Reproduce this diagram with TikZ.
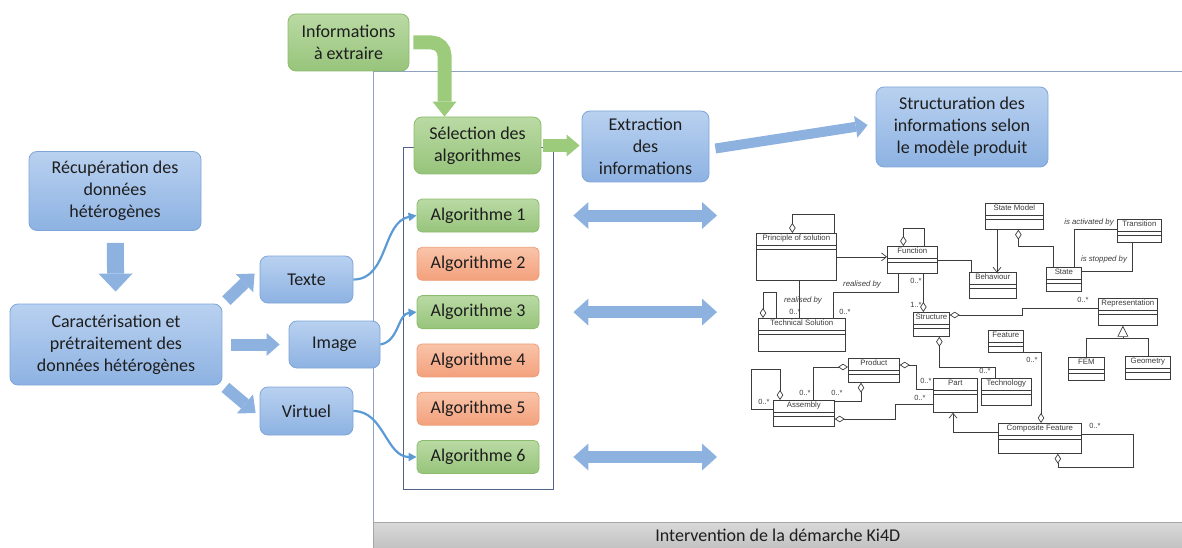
\documentclass[tikz,border=0pt]{standalone}
\usepackage{fontspec}
\setmainfont{Carlito}
\newfontfamily\umlfont{Liberation Sans}
\usetikzlibrary{positioning,arrows.meta,calc}

\definecolor{bluetop}{HTML}{B9D1F0}
\definecolor{bluebot}{HTML}{8DB2E2}
\definecolor{blueedge}{HTML}{7FA5D8}
\definecolor{greentop}{HTML}{BADAA4}
\definecolor{greenbot}{HTML}{97C47B}
\definecolor{greenedge}{HTML}{8CBC6E}
\definecolor{orangetop}{HTML}{F9C4A9}
\definecolor{orangebot}{HTML}{F3A07C}
\definecolor{orangeedge}{HTML}{EE9E7A}
\definecolor{txtdark}{HTML}{1E1E1E}
\definecolor{arrblue}{HTML}{8EB2E0}
\definecolor{arrgreen}{HTML}{9CCB7C}
\definecolor{curveblue}{HTML}{5B9BD5}
\definecolor{frameouter}{HTML}{8FA2BF}
\definecolor{frameinner}{HTML}{4F6288}
\definecolor{umlgray}{HTML}{3C3C3C}

% one class of the product model: name row + two compartments
\newcommand{\umlclass}[6]{%
  \node[umlcls, minimum width=#4pt-#2pt, minimum height=#5pt-#3pt, anchor=north west] (#1) at (#2,#3) {};
  \node[umlname, anchor=north] (#1t) at (#1.north) {#6};
  \draw[umlline] ([yshift=-12pt]#1.north west) -- ([yshift=-12pt]#1.north east);
  \draw[umlline] ([yshift=-16pt]#1.north west) -- ([yshift=-16pt]#1.north east);
}

\begin{document}
\begin{tikzpicture}[
  x=1pt, y=-1pt,
  font=\fontsize{18}{22}\selectfont,
  bluebox/.style={draw=blueedge, line width=0.8pt, rounded corners=8pt, top color=bluetop, bottom color=bluebot, text=txtdark, align=center, inner sep=2pt},
  greenbox/.style={bluebox, draw=greenedge, top color=greentop, bottom color=greenbot},
  algbox/.style={rounded corners=5pt, line width=0.8pt, minimum width=122pt, minimum height=33pt, text=txtdark, inner sep=2pt},
  greenalg/.style={algbox, draw=greenedge, top color=greentop, bottom color=greenbot},
  orangealg/.style={algbox, draw=orangeedge, top color=orangetop, bottom color=orangebot},
  blockarr/.style n args={3}{draw=arrblue, line width=#1, -{Triangle[width=#2, length=#3, line width=0pt]}},
  greenarr/.style n args={3}{draw=arrgreen, line width=#1, -{Triangle[width=#2, length=#3, line width=0pt]}},
  dblarrow/.style={draw=arrblue, line width=12pt, {Triangle[width=27pt, length=15pt, line width=0pt]}-{Triangle[width=27pt, length=15pt, line width=0pt]}},
  curvearr/.style={draw=curveblue, line width=2.2pt, -{Triangle[length=8pt, width=8pt]}},
  outerframe/.style={draw=frameouter, line width=0.8pt},
  innerframe/.style={draw=frameinner, line width=0.8pt},
  graybar/.style={draw=gray!70, line width=0.6pt, top color=gray!30, bottom color=gray!48, text=txtdark, inner sep=0pt},
  umlcls/.style={draw=umlgray, line width=0.7pt, fill=white, inner sep=0pt},
  umlname/.style={font=\umlfont\fontsize{7.8}{9}\selectfont, text=umlgray, inner sep=1.6pt},
  umlline/.style={draw=umlgray, line width=0.7pt},
  aggr/.style={umlline, {Diamond[open, length=10pt, width=6.5pt]}-},
  assoc/.style={umlline, -{Straight Barb[length=5pt, width=8pt]}},
  mult/.style={font=\umlfont\fontsize{7.5}{9}\selectfont, text=umlgray, inner sep=0pt},
  role/.style={font=\umlfont\itshape\fontsize{7.8}{9}\selectfont, text=umlgray, inner sep=0pt}
]
\useasboundingbox (0,0) rectangle (1182,548);

% frames of the Ki4D part
\draw[outerframe] (373,548) -- (373,71) -- (1182,71);
\draw[innerframe] (403,147) rectangle (553,489);
\node[graybar, minimum width=809pt, minimum height=26pt, anchor=north west] (ki4d) at (373,522) {Intervention de la démarche Ki4D};

% data side
\node[bluebox, minimum width=172pt, minimum height=79pt] (recup) at (115,191) {Récupération des\\données\\hétérogènes};
\node[bluebox, minimum width=212pt, minimum height=81pt] (carac) at (116,344.5) {Caractérisation et\\prétraitement des\\données hétérogènes};
\node[bluebox, minimum width=93pt, minimum height=47pt] (texte) at (306.5,279.5) {Texte};
\node[bluebox, minimum width=91pt, minimum height=47pt] (image) at (334.5,344.5) {Image};
\node[bluebox, minimum width=93pt, minimum height=48pt] (virtuel) at (306.5,411) {Virtuel};

% extraction side
\node[greenbox, minimum width=121pt, minimum height=57pt] (info) at (348.5,42.5) {Informations\\à extraire};
\node[greenbox, minimum width=127pt, minimum height=57pt] (sel) at (477.5,145.5) {Sélection des\\algorithmes};
\node[bluebox, minimum width=127pt, minimum height=71pt] (extr) at (645.5,146.5) {Extraction\\des\\informations};
\node[bluebox, minimum width=172pt, minimum height=80pt] (struct) at (962,127) {Structuration des\\informations selon\\le modèle produit};

\node[greenalg] (alg1) at (478,215.5) {Algorithme 1};
\node[orangealg, below=14.5pt of alg1] (alg2) {Algorithme 2};
\node[greenalg, below=14.5pt of alg2] (alg3) {Algorithme 3};
\node[orangealg, below=14.5pt of alg3] (alg4) {Algorithme 4};
\node[orangealg, below=14.5pt of alg4] (alg5) {Algorithme 5};
\node[greenalg, below=14.5pt of alg5] (alg6) {Algorithme 6};

% block arrows
\draw[blockarr={17pt}{34pt}{18pt}, shorten <=12pt, shorten >=12pt] (recup) -- (carac);
\draw[blockarr={12pt}{25pt}{14pt}] ($(carac.north east)+(4,-3)$) -- ($(texte.west)+(-5,-6)$);
\draw[blockarr={12pt}{23pt}{13pt}, shorten <=9pt, shorten >=9pt] (carac.east) -- (carac.east -| image.west);
\draw[blockarr={12pt}{25pt}{14pt}] ($(carac.south east)+(3,2)$) -- ($(virtuel.west)+(-4,2)$);
\draw[greenarr={14pt}{24pt}{15pt}, rounded corners=13pt, shorten <=4pt] (info.east) -| ($(sel.north)+(-33,0)$);
\draw[greenarr={13pt}{22pt}{13pt}, shorten <=2pt, shorten >=2pt] (sel.east) -- (sel.east -| extr.west);
\draw[blockarr={10pt}{22pt}{12pt}] ($(extr.east)+(6,2)$) -- ($(struct.west)+(-8,-2)$);

\draw[curvearr] (texte.east) to[out=0, in=190] (alg1.west);
\draw[curvearr] (image.east) to[out=10, in=185] (alg3.west);
\draw[curvearr] (virtuel.east) to[out=0, in=180] (alg6.west);

\coordinate (umlside) at (717,0);
\draw[dblarrow, shorten <=34pt] (alg1.east) -- (alg1.east -| umlside);
\draw[dblarrow, shorten <=34pt] (alg3.east) -- (alg3.east -| umlside);
\draw[dblarrow, shorten <=34pt] (alg6.east) -- (alg6.east -| umlside);

% product model
\umlclass{prin}{756}{233}{836}{280}{Principle of solution}
\umlclass{func}{887}{246}{937}{273}{Function}
\umlclass{stm}{985}{203}{1043}{229}{State Model}
\umlclass{beh}{969}{272}{1016}{298}{Behaviour}
\umlclass{state}{1046}{267}{1081}{291}{State}
\umlclass{trans}{1117}{219}{1161}{242}{Transition}
\umlclass{struc}{913}{312}{949}{336}{Structure}
\umlclass{repr}{1098}{298}{1157}{325}{Representation}
\umlclass{fem}{1068}{357}{1104}{380}{FEM}
\umlclass{geom}{1125}{356}{1170}{379}{Geometry}
\umlclass{tech}{758}{318}{845}{351}{Technical Solution}
\umlclass{feat}{988}{330}{1023}{352}{Feature}
\umlclass{prod}{848}{358}{899}{382}{Product}
\umlclass{asm}{773}{400}{834}{426}{Assembly}
\umlclass{part}{933}{378}{977}{412}{Part}
\umlclass{techno}{981}{378}{1031}{405}{Technology}
\umlclass{cfeat}{998}{423}{1081}{453}{Composite Feature}

\draw[aggr] ($(prin.north)+(-4,0)$) |- ($(prin.north east)+(-2,-19)$) -- ($(prin.north east)+(-2,0)$);
\draw[aggr] ($(func.north)+(-9,0)$) |- ($(func.north)+(12,-18)$) -- ($(func.north)+(12,0)$);
\draw[assoc] (prin.east) -- (prin.east -| func.west);
\draw[umlline] (func.east) -| ($(beh.north west)+(2,0)$);
\draw[assoc] ($(stm.south west)+(12,0)$) -- ++(0,43);
\draw[aggr] ($(stm.south)+(4,0)$) |- ($(state.north west)+(7,-21)$) -- ($(state.north west)+(7,0)$);
\draw[umlline] ($(state.north east)+(-7,0)$) |- ($(trans.west)+(0,-2)$);
\draw[umlline] ($(state.north east)+(0,4)$) -| ($(trans.south)+(-7,0)$);
\draw[aggr] ($(struc.north)+(-8,0)$) -- ($(func.south)+(11,0)$);
\draw[aggr] ($(struc.north east)+(0,3)$) -- ++(73,0) |- ($(repr.west)+(0,-3.5)$);
\draw[umlline, {Triangle[open, length=11pt, width=11pt]}-] ($(repr.south)+(-5,0)$) -- ++(0,13);
\draw[umlline] (fem.north) -- ++(0,-19) -| (geom.north);
\draw[umlline] ($(prin.south)+(3,0)$) -- ++(0,38);
\draw[umlline] ($(func.south)+(-14,0)$) |- ($(tech.north east)+(-12,-26)$) -- ($(tech.north east)+(-12,0)$);
\draw[aggr] ($(tech.north west)+(5,0)$) |- ($(tech.north west)+(18,-26)$) -- ($(tech.north west)+(18,0)$);
\draw[aggr] ($(struc.south)+(8,0)$) |- ($(techno.north west)+(14,-11)$) -- ($(techno.north west)+(14,0)$);
\draw[aggr] ($(asm.north west)+(7,0)$) -- ++(0,-31) -| ($(asm.north west)+(-22,9)$) -- ($(asm.north west)+(0,9)$);
\draw[aggr] ($(prod.north west)+(0,9)$) -| ($(asm.north west)+(40,0)$);
\draw[aggr] ($(prod.south west)+(13,0)$) |- ($(asm.north east)+(0,1)$);
\draw[aggr] ($(asm.north east)+(0,19)$) -- ++(61,0) |- ($(part.west)+(0,9)$);
\draw[aggr] ($(prod.north east)+(0,7)$) -- ++(17,0) |- ($(part.west)+(0,-6)$);
\draw[assoc] ($(cfeat.north west)+(0,9)$) -| ($(part.south west)+(20,0)$);
\draw[aggr] ($(cfeat.north west)+(43,0)$) |- (feat.south east);
\draw[aggr] ($(cfeat.south)+(18,0)$) -- ++(0,14) -| ($(cfeat.north east)+(52,11)$) -- ($(cfeat.north east)+(0,11)$);

\node[role] (r1) at (803,300) {realised by};
\node[role] (r2) at (862,284) {realised by};
\node[role] (r3) at (1089,222) {is activated by};
\node[role] (r4) at (1104,259) {is stopped by};
\node[mult] (m1) at (916,281) {0..*};
\node[mult] (m2) at (916,305) {1..*};
\node[mult] (m3) at (795,312) {0..*};
\node[mult] (m4) at (845,312) {0..*};
\node[mult] (m5) at (1083,300) {0..*};
\node[mult] (m6) at (985,371) {0..*};
\node[mult] (m7) at (764,402) {0..*};
\node[mult] (m8) at (805,393) {0..*};
\node[mult] (m9) at (837,393) {0..*};
\node[mult] (m10) at (920,398) {0..*};
\node[mult] (m11) at (926,381) {0..*};
\node[mult] (m12) at (1032,360) {0..*};
\node[mult] (m13) at (1095,426) {0..*};
\end{tikzpicture}
\end{document}
